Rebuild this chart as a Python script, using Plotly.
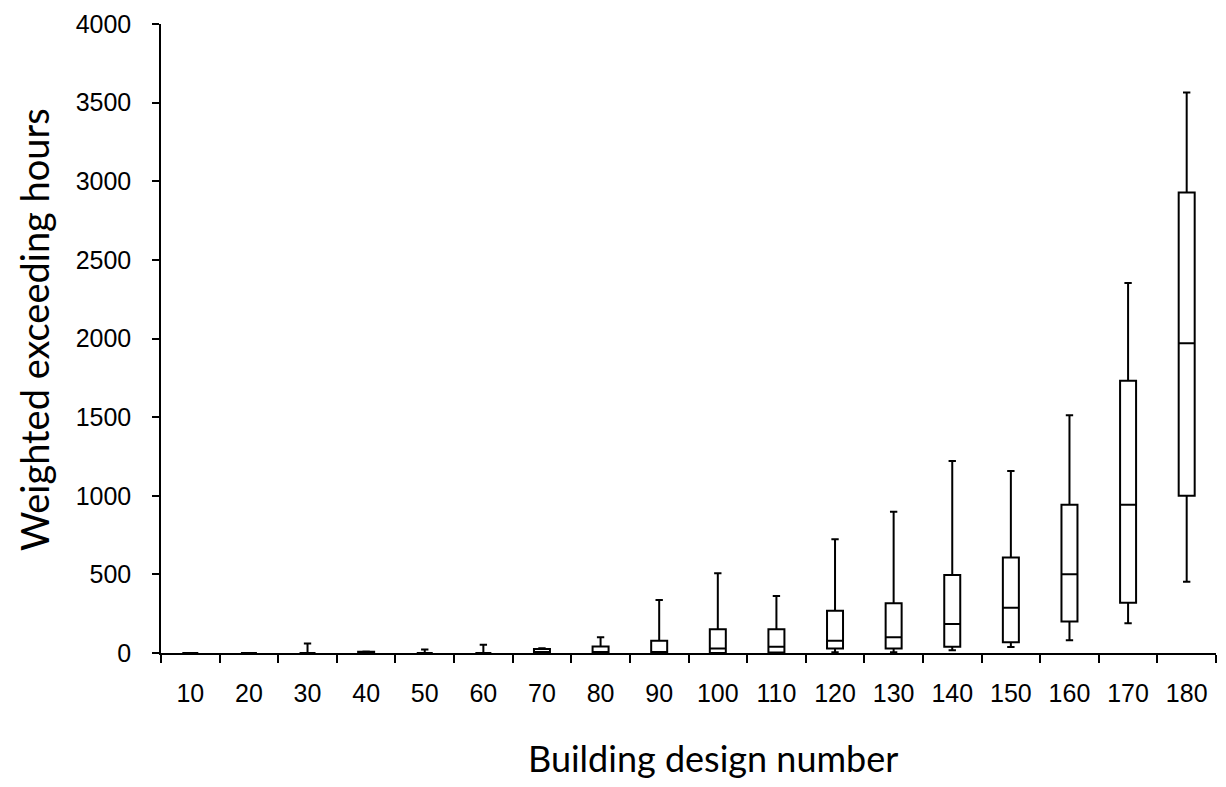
import plotly.graph_objects as go

categories = ["10", "20", "30", "40", "50", "60", "70", "80", "90",
              "100", "110", "120", "130", "140", "150", "160", "170", "180"]
lower_whisker = [0, 0, 0, 0, 0, 0, 0, 0, 0, 0, 0, 5, 5, 18, 38, 81, 189, 453]
q1 = [0, 0, 0, 0, 0, 0, 0, 0, 0, 0, 3, 28, 28, 40, 68, 200, 320, 1000]
median = [0, 0, 0, 2, 0, 0, 5, 5, 2, 28, 40, 78, 100, 184, 287, 501, 942, 1970]
q3 = [0, 0, 0, 8, 0, 0, 25, 42, 78, 151, 151, 269, 316, 496, 607, 942, 1731, 2928]
upper_whisker = [0, 0, 60, 10, 23, 53, 30, 100, 337, 507, 362, 723, 899, 1221, 1157, 1512, 2353, 3565]

y_ticks = [0, 500, 1000, 1500, 2000, 2500, 3000, 3500, 4000]
x_title = "Building design number"
y_title = "Weighted exceeding hours"

fig = go.Figure()
fig.add_trace(go.Box(
    x=categories,
    q1=q1, median=median, q3=q3,
    lowerfence=lower_whisker, upperfence=upper_whisker,
    fillcolor="white",
    line=dict(color="black", width=2),
    whiskerwidth=0.46,
    boxpoints=False,
    showlegend=False,
    hoverinfo="skip",
))

tick_font = dict(family="Liberation Sans, Arial, sans-serif", size=25, color="black")
title_font = dict(family="Lato, Open Sans, sans-serif", size=36, color="black")

fig.update_layout(
    width=1226, height=787,
    margin=dict(l=161, r=10, t=24, b=134, pad=0),
    paper_bgcolor="white", plot_bgcolor="white",
    boxgap=0.61,
    xaxis=dict(
        type="category",
        tickson="boundaries",
        ticks="outside", ticklen=8, tickwidth=1.5, tickcolor="black",
        showline=True, linecolor="black", linewidth=1.5,
        showgrid=False, zeroline=False,
        tickfont=tick_font,
        ticklabelstandoff=17,
    ),
    yaxis=dict(
        range=[0, 4000],
        tickvals=y_ticks,
        ticks="outside", ticklen=7, tickwidth=1.5, tickcolor="black",
        showline=True, linecolor="black", linewidth=1.5,
        showgrid=False, zeroline=False,
        tickfont=tick_font,
        ticklabelstandoff=16,
    ),
    annotations=[
        dict(text=x_title, xref="paper", yref="paper", showarrow=False,
             x=(713 - 161) / (1226 - 171), y=-(758 - 653) / (653 - 24),
             xanchor="center", yanchor="middle", font=title_font),
        dict(text=y_title, xref="paper", yref="paper", showarrow=False,
             x=-(161 - 34) / (1226 - 171), y=(653 - 330) / (653 - 24),
             xanchor="center", yanchor="middle", textangle=-90,
             font=dict(family="Lato, Open Sans, sans-serif", size=38, color="black")),
    ],
)

fig.write_html("out.html")
